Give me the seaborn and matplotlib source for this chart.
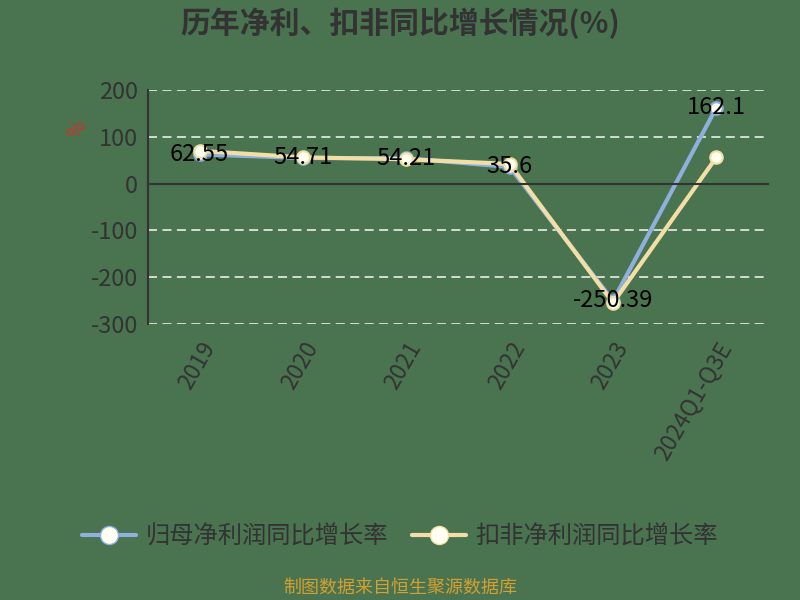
import pandas as pd
import numpy as np
import matplotlib
matplotlib.use("Agg")
import matplotlib.pyplot as plt
import seaborn as sns

categories = ["2019", "2020", "2021", "2022", "2023", "2024Q1-Q3E"]
net_profit_growth = [62.55, 54.71, 54.21, 35.6, -250.39, 162.1]
deducted_growth = [70.0, 56.0, 52.0, 42.0, -255.0, 56.0]
series_names = ["归母净利润同比增长率", "扣非净利润同比增长率"]
y_ticks = [200, 100, 0, -100, -200, -300]

bg = "#4a7350"
blue = "#8fb0dc"
yellow = "#f3dfa6"
dark = "#333333"

sns.set_theme(style="white")
plt.rcParams["font.family"] = ["Noto Sans CJK SC", "DejaVu Sans"]
plt.rcParams["axes.unicode_minus"] = False

df = pd.DataFrame({
    "year": categories * 2,
    "value": net_profit_growth + deducted_growth,
    "series": [series_names[0]] * 6 + [series_names[1]] * 6,
})

fig = plt.figure(figsize=(8, 6), dpi=100, facecolor=bg)
ax = fig.add_axes([0.185, 0.46, 0.775, 0.39])
ax.set_facecolor(bg)

sns.lineplot(data=df, x="year", y="value", hue="series", palette=[blue, yellow],
             linewidth=3, marker="o", markersize=9, markerfacecolor="#fffff2",
             markeredgewidth=1.5, ax=ax, legend=False, sort=False)
# marker edges take the line colour
for line, c in zip(ax.get_lines(), [blue, yellow]):
    line.set_markeredgecolor(c)

# data labels for the first series
for i, v in enumerate(net_profit_growth):
    ax.text(i, v, f"{v:g}", ha="center", va="center", fontsize=17, color="black", zorder=5)

ax.set_xlim(-0.5, len(categories) - 0.5)
ax.set_ylim(-300, 200)
ax.set_yticks(y_ticks)
ax.set_yticklabels([str(t) for t in y_ticks], fontsize=17, color=dark)
ax.tick_params(axis="y", length=6, color=dark, width=1.2, pad=1)

for t in y_ticks:
    if t != 0:
        ax.axhline(t, color="#dde5dd", linestyle=(0, (5, 3)), linewidth=1.3, zorder=0)

# x axis line sits at zero, with ticks at category boundaries
ax.spines["bottom"].set_position(("data", 0))
ax.spines["bottom"].set_color(dark)
ax.spines["bottom"].set_linewidth(1.5)
ax.spines["left"].set_color(dark)
ax.spines["left"].set_linewidth(1.5)
ax.spines["top"].set_visible(False)
ax.spines["right"].set_visible(False)
ax.set_xticks(np.arange(len(categories) + 1) - 0.5)
ax.set_xticklabels([])
ax.tick_params(axis="x", length=6, color=dark, width=1.2, direction="in")

# category labels below the plot
sec = ax.secondary_xaxis("bottom")
sec.set_xticks(range(len(categories)))
sec.set_xticklabels(categories, rotation=60, ha="right", rotation_mode="anchor",
                    fontsize=16.5, color=dark)
sec.tick_params(length=0, pad=10)
sec.spines["bottom"].set_visible(False)

ax.set_xlabel("")
ax.set_ylabel("%", color="#d03030", fontsize=14, rotation=60)
ax.yaxis.set_label_coords(-0.1, 0.81)

fig.text(0.5, 0.962, "历年净利、扣非同比增长情况(%)", ha="center", va="center",
         fontsize=21.5, fontweight="bold", color=dark)

handles = [
    plt.Line2D([], [], color=c, linewidth=3, marker="o", markersize=13,
               markerfacecolor="#fffff2", markeredgecolor=c)
    for c in [blue, yellow]
]
fig.legend(handles, series_names, loc="center", bbox_to_anchor=(0.5, 0.105), ncol=2,
           frameon=False, fontsize=17.5, labelcolor=dark, handlelength=2.2,
           columnspacing=1.0, handletextpad=0.4)

fig.text(0.5, 0.02, "制图数据来自恒生聚源数据库", ha="center", va="center",
         fontsize=13, color="#d4a030")

fig.savefig("out.png", dpi=100, facecolor=bg)
